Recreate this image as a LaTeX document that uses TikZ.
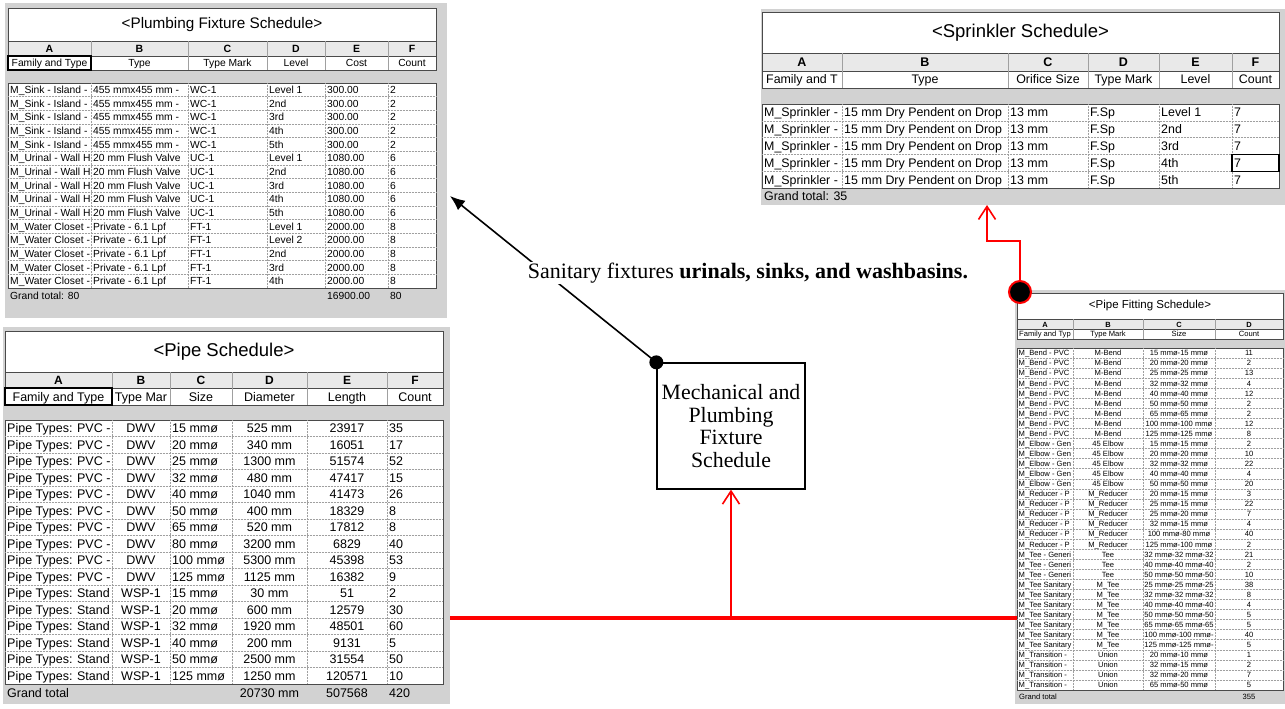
\documentclass[tikz,border=0pt]{standalone}
\usepackage{fontspec}
\setmainfont{Liberation Serif}
\setsansfont{Liberation Sans}
\usetikzlibrary{arrows.meta}
\definecolor{panel}{HTML}{D2D2D2}
\definecolor{headfill}{HTML}{E9E9E9}
\definecolor{rulegray}{HTML}{A0A0A0}
\definecolor{framegray}{HTML}{4A4A4A}
\newcommand{\tabfont}[1]{\sffamily\fontsize{#1}{#1}\selectfont}

\begin{document}
\begin{tikzpicture}[x=1pt, y=-1pt,
    cell/.style={font=\tabfont{#1}, inner sep=0pt, anchor=base west},
    mid/.style={font=\tabfont{#1}, inner sep=0pt, anchor=base},
    lett/.style={font=\tabfont{#1}\bfseries, inner sep=0pt, anchor=base},
    ttl/.style={draw=framegray, fill=white, line width=0.8pt, font=\tabfont{#1}, inner sep=0pt},
    box/.style={fill=white, draw=framegray, line width=0.8pt},
    head/.style={fill=headfill, draw=framegray, line width=0.8pt},
    sep/.style={draw=rulegray, line width=0.6pt},
    grid/.style={draw=rulegray, line width=0.5pt, densely dotted},
    sel/.style={draw=black, line width=1.3pt},
    dot/.style={circle, fill=black, inner sep=0pt, minimum size=#1},
    redline/.style={red, line width=1.6pt, -{Straight Barb[length=13pt,width=17pt]}}]
\useasboundingbox (0,0) rectangle (1285,709);

% Plumbing Fixture Schedule
\fill[panel] (5,3) rectangle (447,318);
\node[ttl=15.3, minimum width=428, minimum height=33] (pfs) at (222,24.5) {<Plumbing Fixture Schedule>};
\path[head] (8,41) rectangle (436,56);
\path[box] (8,56) rectangle (436,70);
\path[box] (8,83) rectangle (436,288);
\foreach \x in {91,188,267,325,388} {
  \draw[sep] (\x,41) -- (\x,70);
  \draw[grid] (\x,83) -- (\x,288);
}
\foreach \r in {1,...,14}
  \draw[grid] (8,{83+13.67*\r}) -- (436,{83+13.67*\r});
\foreach \hl/\hn/\hx [count=\c] in {A/Family and Type/49.5, B/Type/139.5, C/Type Mark/227.5,
    D/Level/296, E/Cost/356.5, F/Count/412} {
  \node[lett=10.5] (pfs-h\c) at (\hx,52.3) {\hl};
  \node[mid=10.3] (pfs-n\c) at (\hx,66.7) {\hn};
}
\draw[sel] (8,56) rectangle (91,70);
\foreach \va/\vb/\vc/\vd/\ve/\vf [count=\r] in {
    M\_Sink - Island -/455 mmx455 mm -/WC-1/Level 1/300.00/2,
    M\_Sink - Island -/455 mmx455 mm -/WC-1/2nd/300.00/2,
    M\_Sink - Island -/455 mmx455 mm -/WC-1/3rd/300.00/2,
    M\_Sink - Island -/455 mmx455 mm -/WC-1/4th/300.00/2,
    M\_Sink - Island -/455 mmx455 mm -/WC-1/5th/300.00/2,
    M\_Urinal - Wall H/20 mm Flush Valve/UC-1/Level 1/1080.00/6,
    M\_Urinal - Wall H/20 mm Flush Valve/UC-1/2nd/1080.00/6,
    M\_Urinal - Wall H/20 mm Flush Valve/UC-1/3rd/1080.00/6,
    M\_Urinal - Wall H/20 mm Flush Valve/UC-1/4th/1080.00/6,
    M\_Urinal - Wall H/20 mm Flush Valve/UC-1/5th/1080.00/6,
    M\_Water Closet -/Private - 6.1 Lpf/FT-1/Level 1/2000.00/8,
    M\_Water Closet -/Private - 6.1 Lpf/FT-1/Level 2/2000.00/8,
    M\_Water Closet -/Private - 6.1 Lpf/FT-1/2nd/2000.00/8,
    M\_Water Closet -/Private - 6.1 Lpf/FT-1/3rd/2000.00/8,
    M\_Water Closet -/Private - 6.1 Lpf/FT-1/4th/2000.00/8} {
  \node[cell=10.3] (pfs-\r-a) at (10,{79.9+13.67*\r}) {\va};
  \node[cell=10.3] (pfs-\r-b) at (93,{79.9+13.67*\r}) {\vb};
  \node[cell=10.3] (pfs-\r-c) at (190,{79.9+13.67*\r}) {\vc};
  \node[cell=10.3] (pfs-\r-d) at (269,{79.9+13.67*\r}) {\vd};
  \node[cell=10.3] (pfs-\r-e) at (327,{79.9+13.67*\r}) {\ve};
  \node[cell=10.3] (pfs-\r-f) at (390,{79.9+13.67*\r}) {\vf};
}
\node[cell=10.3] (pfs-tot) at (10,299.2) {Grand total: 80};
\node[cell=10.3] (pfs-tot-e) at (327,299.2) {16900.00};
\node[cell=10.3] (pfs-tot-f) at (390,299.2) {80};
\coordinate (pfs-in) at (450,196);

% Pipe Schedule
\fill[panel] (3,327) rectangle (450,704);
\node[ttl=18.5, minimum width=438, minimum height=41] (ps) at (224,351.5) {<Pipe Schedule>};
\path[head] (5,372) rectangle (443,388);
\path[box] (5,388) rectangle (443,405);
\path[box] (5,420) rectangle (443,684);
\foreach \x in {112,170,232,307,387} {
  \draw[sep] (\x,372) -- (\x,405);
  \draw[grid] (\x,420) -- (\x,684);
}
\foreach \r in {1,...,15}
  \draw[grid] (5,{420+16.5*\r}) -- (443,{420+16.5*\r});
\foreach \hl/\hn/\hx [count=\c] in {A/Family and Type/58.5, B/Type Mar/141, C/Size/201,
    D/Diameter/269.5, E/Length/347, F/Count/415} {
  \node[lett=12] (ps-h\c) at (\hx,384.3) {\hl};
  \node[mid=12.5] (ps-n\c) at (\hx,401) {\hn};
}
\draw[sel] (5,388) rectangle (112,405);
\foreach \va/\vb/\vc/\vd/\ve/\vf [count=\r] in {
    Pipe Types: PVC -/DWV/15 mmø/525 mm/23917/35,
    Pipe Types: PVC -/DWV/20 mmø/340 mm/16051/17,
    Pipe Types: PVC -/DWV/25 mmø/1300 mm/51574/52,
    Pipe Types: PVC -/DWV/32 mmø/480 mm/47417/15,
    Pipe Types: PVC -/DWV/40 mmø/1040 mm/41473/26,
    Pipe Types: PVC -/DWV/50 mmø/400 mm/18329/8,
    Pipe Types: PVC -/DWV/65 mmø/520 mm/17812/8,
    Pipe Types: PVC -/DWV/80 mmø/3200 mm/6829/40,
    Pipe Types: PVC -/DWV/100 mmø/5300 mm/45398/53,
    Pipe Types: PVC -/DWV/125 mmø/1125 mm/16382/9,
    Pipe Types: Stand/WSP-1/15 mmø/30 mm/51/2,
    Pipe Types: Stand/WSP-1/20 mmø/600 mm/12579/30,
    Pipe Types: Stand/WSP-1/32 mmø/1920 mm/48501/60,
    Pipe Types: Stand/WSP-1/40 mmø/200 mm/9131/5,
    Pipe Types: Stand/WSP-1/50 mmø/2500 mm/31554/50,
    Pipe Types: Stand/WSP-1/125 mmø/1250 mm/120571/10} {
  \node[cell=12.5] (ps-\r-a) at (7,{416.3+16.5*\r}) {\va};
  \node[mid=12.5] (ps-\r-b) at (141,{416.3+16.5*\r}) {\vb};
  \node[cell=12.5] (ps-\r-c) at (172,{416.3+16.5*\r}) {\vc};
  \node[mid=12.5] (ps-\r-d) at (269.5,{416.3+16.5*\r}) {\vd};
  \node[mid=12.5] (ps-\r-e) at (347,{416.3+16.5*\r}) {\ve};
  \node[cell=12.5] (ps-\r-f) at (389,{416.3+16.5*\r}) {\vf};
}
\node[cell=12.5] (ps-tot) at (7,697) {Grand total};
\node[mid=12.5] (ps-tot-d) at (269.5,697) {20730 mm};
\node[mid=12.5] (ps-tot-e) at (347,697) {507568};
\node[cell=12.5] (ps-tot-f) at (389,697) {420};
\coordinate (ps-out) at (450,618);

% Sprinkler Schedule
\fill[panel] (761,9) rectangle (1285,205);
\node[ttl=18.5, minimum width=517, minimum height=41] (ss) at (1020.5,32.5) {<Sprinkler Schedule>};
\path[head] (762,53) rectangle (1279,71);
\path[box] (762,71) rectangle (1279,88);
\path[box] (762,104) rectangle (1279,188);
\foreach \x in {842,1008,1088,1159,1232} {
  \draw[sep] (\x,53) -- (\x,88);
  \draw[grid] (\x,104) -- (\x,188);
}
\foreach \r in {1,...,4}
  \draw[grid] (762,{104+16.8*\r}) -- (1279,{104+16.8*\r});
\foreach \hl/\hn/\hx [count=\c] in {A/Family and T/802, B/Type/925, C/Orifice Size/1048,
    D/Type Mark/1123.5, E/Level/1195.5, F/Count/1255.5} {
  \node[lett=12.5] (ss-h\c) at (\hx,66.3) {\hl};
  \node[mid=12.4] (ss-n\c) at (\hx,84) {\hn};
}
\foreach \vd [count=\r] in {Level 1, 2nd, 3rd, 4th, 5th} {
  \node[cell=12.4] (ss-\r-a) at (764,{100.1+16.8*\r}) {M\_Sprinkler -};
  \node[cell=12.4] (ss-\r-b) at (844,{100.1+16.8*\r}) {15 mm Dry Pendent on Drop};
  \node[cell=12.4] (ss-\r-c) at (1010,{100.1+16.8*\r}) {13 mm};
  \node[cell=12.4] (ss-\r-d) at (1090,{100.1+16.8*\r}) {F.Sp};
  \node[cell=12.4] (ss-\r-e) at (1161,{100.1+16.8*\r}) {\vd};
  \node[cell=12.4] (ss-\r-f) at (1234,{100.1+16.8*\r}) {7};
}
\draw[sel] (1232,154.4) rectangle (1279,171.2);
\node[cell=12.4] (ss-tot) at (764,200.5) {Grand total: 35};
\coordinate (ss-in) at (987,205);

% Pipe Fitting Schedule
\fill[panel] (1015,290) rectangle (1285,704);
\node[ttl=11.5, minimum width=266, minimum height=26] (pft) at (1150,306) {<Pipe Fitting Schedule>};
\path[head] (1017,319) rectangle (1283,329);
\path[box] (1017,329) rectangle (1283,339);
\path[box] (1017,348) rectangle (1283,690);
\foreach \x in {1073,1143,1215} {
  \draw[sep] (\x,319) -- (\x,339);
  \draw[grid] (\x,348) -- (\x,690);
}
\foreach \r in {1,...,33}
  \draw[grid] (1017,{348+10.06*\r}) -- (1283,{348+10.06*\r});
\foreach \hl/\hn/\hx [count=\c] in {A/Family and Typ/1045, B/Type Mark/1108, C/Size/1179, D/Count/1249} {
  \node[lett=7.5] (pft-h\c) at (\hx,327) {\hl};
  \node[mid=7.6] (pft-n\c) at (\hx,336.8) {\hn};
}
\foreach \va/\vb/\vc/\vd [count=\r] in {
    M\_Bend - PVC/M-Bend/15 mmø-15 mmø/11,
    M\_Bend - PVC/M-Bend/20 mmø-20 mmø/2,
    M\_Bend - PVC/M-Bend/25 mmø-25 mmø/13,
    M\_Bend - PVC/M-Bend/32 mmø-32 mmø/4,
    M\_Bend - PVC/M-Bend/40 mmø-40 mmø/12,
    M\_Bend - PVC/M-Bend/50 mmø-50 mmø/2,
    M\_Bend - PVC/M-Bend/65 mmø-65 mmø/2,
    M\_Bend - PVC/M-Bend/100 mmø-100 mmø/12,
    M\_Bend - PVC/M-Bend/125 mmø-125 mmø/8,
    M\_Elbow - Gen/45 Elbow/15 mmø-15 mmø/2,
    M\_Elbow - Gen/45 Elbow/20 mmø-20 mmø/10,
    M\_Elbow - Gen/45 Elbow/32 mmø-32 mmø/22,
    M\_Elbow - Gen/45 Elbow/40 mmø-40 mmø/4,
    M\_Elbow - Gen/45 Elbow/50 mmø-50 mmø/20,
    M\_Reducer - P/M\_Reducer/20 mmø-15 mmø/3,
    M\_Reducer - P/M\_Reducer/25 mmø-15 mmø/22,
    M\_Reducer - P/M\_Reducer/25 mmø-20 mmø/7,
    M\_Reducer - P/M\_Reducer/32 mmø-15 mmø/4,
    M\_Reducer - P/M\_Reducer/100 mmø-80 mmø/40,
    M\_Reducer - P/M\_Reducer/125 mmø-100 mmø/2,
    M\_Tee - Generi/Tee/32 mmø-32 mmø-32/21,
    M\_Tee - Generi/Tee/40 mmø-40 mmø-40/2,
    M\_Tee - Generi/Tee/50 mmø-50 mmø-50/10,
    M\_Tee Sanitary/M\_Tee/25 mmø-25 mmø-25/38,
    M\_Tee Sanitary/M\_Tee/32 mmø-32 mmø-32/8,
    M\_Tee Sanitary/M\_Tee/40 mmø-40 mmø-40/4,
    M\_Tee Sanitary/M\_Tee/50 mmø-50 mmø-50/5,
    M\_Tee Sanitary/M\_Tee/65 mmø-65 mmø-65/5,
    M\_Tee Sanitary/M\_Tee/100 mmø-100 mmø-/40,
    M\_Tee Sanitary/M\_Tee/125 mmø-125 mmø-/5,
    M\_Transition -/Union/20 mmø-10 mmø/1,
    M\_Transition -/Union/32 mmø-15 mmø/2,
    M\_Transition -/Union/32 mmø-20 mmø/7,
    M\_Transition -/Union/65 mmø-50 mmø/5} {
  \node[cell=7.6] (pft-\r-a) at (1018.5,{345.8+10.06*\r}) {\va};
  \node[mid=7.6] (pft-\r-b) at (1108,{345.8+10.06*\r}) {\vb};
  \node[mid=7.6] (pft-\r-c) at (1179,{345.8+10.06*\r}) {\vc};
  \node[mid=7.6] (pft-\r-d) at (1249,{345.8+10.06*\r}) {\vd};
}
\node[cell=7.6] (pft-tot) at (1019,699.3) {Grand total};
\node[mid=7.6] (pft-tot-d) at (1249,699.3) {355};
\coordinate (pft-in) at (1017,618);

% centre box and connectors
\node[draw, line width=1.3pt, minimum width=148, minimum height=126, align=center, inner sep=0pt,
    font=\fontsize{21.8}{22.7}\selectfont] (mpfs) at (731,426) {Mechanical and\\Plumbing\\Fixture\\Schedule};
\node[dot=14] (mdot) at (mpfs.north west) {};
\draw[line width=1.6pt, -{Latex[length=15pt,width=12pt]}] (mdot.center) -- (pfs-in);
\node[fill=white, inner sep=1pt, font=\fontsize{22}{24}\selectfont] (sanit) at (748,273)
    {Sanitary fixtures \textbf{urinals, sinks, and washbasins.}};
\draw[red, line width=4.5pt] (ps-out) -- (pft-in);
\draw[redline] (mpfs.south |- ps-out) -- (mpfs.south);
\node[dot=22, draw=red, line width=2pt] (rdot) at (1020,292) {};
\draw[redline] (rdot.north) -- ++(0,-39) -| (ss-in);
\end{tikzpicture}
\end{document}
